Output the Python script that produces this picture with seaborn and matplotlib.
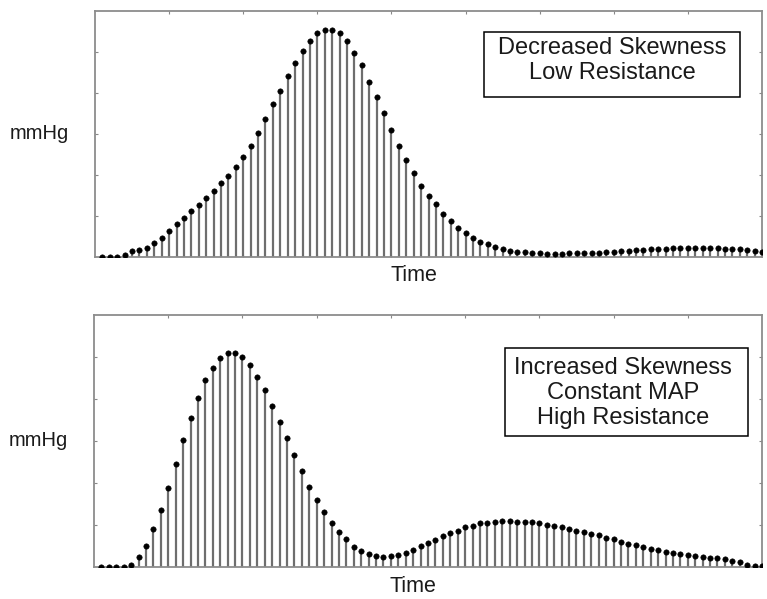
import matplotlib
matplotlib.use("Agg")
import matplotlib.pyplot as plt
import matplotlib.patches as mpatches
import seaborn as sns
import pandas as pd
import numpy as np

# sample number (1..90) and pressure heights
sample = np.arange(1, 91)

low_resistance = [
    0, 0, 0, 1.7, 6, 6.7, 8.3, 14, 19, 25.7,
    32.3, 38.3, 45.7, 51.7, 59, 66, 73.3, 81, 90, 99.3,
    111, 123.3, 137.7, 152.3, 166, 181, 194, 205.7, 215.7, 223.3,
    226.7, 226.7, 223.3, 216, 204, 191.7, 175, 159.3, 143.3, 126.7,
    111, 96.7, 83.3, 71, 61, 52.5, 43, 35.5, 29, 23.5,
    19, 14.5, 12.3, 9.5, 7.5, 5.7, 5, 4.3, 4, 3.3,
    2.7, 2.7, 2.7, 3.3, 3.3, 4, 4, 4, 4.3, 5,
    5.7, 6, 6.7, 6.7, 7.3, 7.7, 8, 8.3, 9, 9,
    9, 9, 9, 8.3, 8, 7.7, 7.3, 6.7, 6, 5,
]

high_resistance = [
    0, 0, 0, 0, 1.7, 9.3, 21, 37.3, 56.7, 79,
    102.3, 126.7, 149, 169, 186.7, 199, 209, 214, 214, 209.3,
    201.7, 189.3, 176.7, 160.7, 145, 129, 111.7, 95.7, 80, 66.7,
    55, 44, 35, 27.3, 20, 16, 12.7, 11, 10, 11,
    11.7, 13.3, 16.7, 20.5, 23.3, 26.7, 30.7, 33.3, 35.7, 39.3,
    40.7, 43.3, 44, 44.7, 45.7, 45.7, 45, 44.7, 44.3, 43.3,
    41.7, 40.7, 40, 37.3, 36, 35, 32.3, 31.7, 28.3, 27.7,
    25, 22.7, 21.7, 20, 17.7, 16.7, 15, 13.3, 12.7, 11.7,
    10.7, 9.3, 9, 8.3, 7.7, 5.7, 4.3, 1.7, 0.7, 0.7,
]

top_label = "Decreased Skewness\nLow Resistance"
bottom_label = "Increased Skewness\nConstant MAP\nHigh Resistance"

sns.set_style("white")
plt.rcParams['font.family'] = ['Liberation Sans', 'DejaVu Sans']

fig = plt.figure(figsize=(7.67, 5.99), dpi=100)
ax1 = fig.add_axes([0.1239, 0.5715, 0.8696, 0.4102])
ax2 = fig.add_axes([0.1226, 0.0539, 0.8709, 0.4202])

# (axes, values, ymax, label, text centre, box [x0, y0, x1, y1]) in axes fractions
panels = [
    (ax1, low_resistance, 245.7, top_label, (0.776, 0.797), (0.583, 0.650, 0.967, 0.9145)),
    (ax2, high_resistance, 251.7, bottom_label, (0.792, 0.69), (0.615, 0.519, 0.979, 0.869)),
]

for ax, values, ymax, label, pos, box in panels:
    df = pd.DataFrame({'sample': sample, 'mmHg': values})
    ax.vlines(df['sample'], 0, df['mmHg'], color='#6e6e6e', lw=1.6, zorder=2)
    sns.scatterplot(x='sample', y='mmHg', data=df, ax=ax, color='black',
                    s=15, edgecolor='black', linewidth=0.4, zorder=3)
    ax.set_xlim(0, 90)
    ax.set_ylim(0, ymax)
    ax.set_xticks(np.arange(10, 90, 10))
    ax.set_yticks(np.linspace(0, ymax, 7)[1:-1])
    ax.tick_params(direction='in', length=2.5, width=0.8, color='#888888',
                   top=True, right=True, bottom=True, left=True,
                   labelbottom=False, labelleft=False)
    for sp in ax.spines.values():
        sp.set_color('#8c8c8c')
        sp.set_linewidth(1.3)
    ax.set_xlabel("Time", fontsize=15.5, color='#1a1a1a')
    ax.xaxis.set_label_coords(0.478, -0.035)
    ax.xaxis.label.set_va('top')
    ax.set_ylabel("mmHg", fontsize=14.5, color='#1a1a1a', rotation=0,
                  ha='center', va='center')
    ax.yaxis.set_label_coords(-0.083, 0.5)
    ax.add_patch(mpatches.Rectangle((box[0], box[1]), box[2] - box[0], box[3] - box[1],
                                    transform=ax.transAxes, fc='white', ec='black',
                                    lw=1.1, zorder=4))
    ax.text(pos[0], pos[1], label, transform=ax.transAxes, ha='center',
            va='center', fontsize=17, color='#1a1a1a', linespacing=1.16, zorder=5)

plt.savefig("out.png", dpi=100)
